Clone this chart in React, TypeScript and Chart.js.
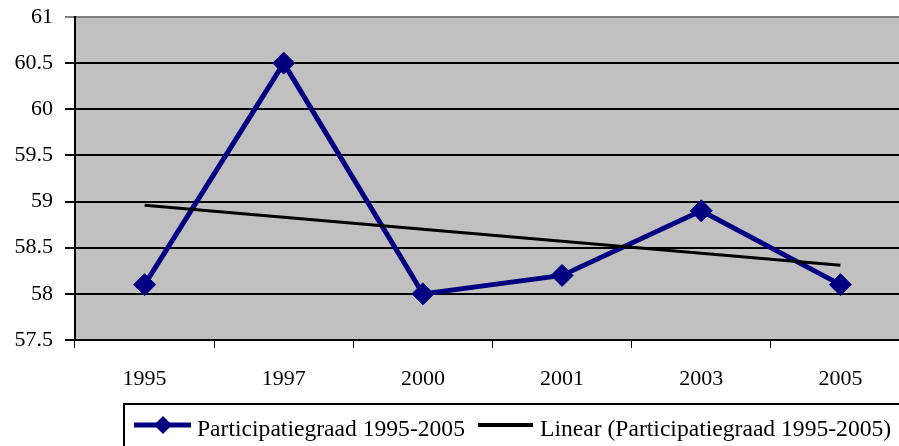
import React, { useEffect, useRef } from "react";
import { Chart, registerables } from "chart.js";

Chart.register(...registerables);

const categories = ["1995", "1997", "2000", "2001", "2003", "2005"];
const participatie = [58.1, 60.5, 58.0, 58.2, 58.9, 58.1];
const linearTrend = [58.96, 58.83, 58.7, 58.57, 58.44, 58.31];
const seriesLabel = "Participatiegraad 1995-2005";
const trendLabel = "Linear (Participatiegraad 1995-2005)";

const NAVY = "#000080";
const FONT = "Liberation Serif, 'Times New Roman', serif";

const bgPlugin = {
  id: "plotBg",
  beforeDraw(chart: any) {
    const { ctx, chartArea } = chart;
    ctx.save();
    ctx.fillStyle = "#C0C0C0";
    ctx.fillRect(chartArea.left, chartArea.top, chartArea.right - chartArea.left, chartArea.bottom - chartArea.top);
    ctx.restore();
  },
};

const legendPlugin = {
  id: "boxLegend",
  afterDraw(chart: any) {
    const ctx = chart.ctx;
    ctx.save();
    ctx.strokeStyle = "#000";
    ctx.lineWidth = 2;
    ctx.strokeRect(124, 404, 830, 80);
    const y = 425;
    ctx.strokeStyle = NAVY;
    ctx.lineWidth = 5;
    ctx.beginPath();
    ctx.moveTo(134, y);
    ctx.lineTo(191, y);
    ctx.stroke();
    ctx.fillStyle = NAVY;
    ctx.beginPath();
    const r = 9;
    ctx.moveTo(163 - r, y);
    ctx.lineTo(163, y - r);
    ctx.lineTo(163 + r, y);
    ctx.lineTo(163, y + r);
    ctx.closePath();
    ctx.fill();
    ctx.font = `23.6px ${FONT}`;
    ctx.fillStyle = "#000";
    ctx.textBaseline = "alphabetic";
    ctx.textAlign = "left";
    ctx.fillText(seriesLabel, 197, 436);
    ctx.strokeStyle = "#000";
    ctx.lineWidth = 4;
    ctx.beginPath();
    ctx.moveTo(478, y);
    ctx.lineTo(533, y);
    ctx.stroke();
    ctx.fillText(trendLabel, 540, 436);
    ctx.restore();
  },
};

export default function App() {
  const ref = useRef<HTMLCanvasElement>(null);
  useEffect(() => {
    if (!ref.current) return;
    const chart = new Chart(ref.current, {
      type: "line",
      data: {
        labels: categories,
        datasets: [
          {
            label: seriesLabel,
            data: participatie,
            borderColor: NAVY,
            backgroundColor: NAVY,
            borderWidth: 5,
            pointStyle: "rectRot",
            pointRadius: 11,
            pointBorderWidth: 1,
            pointBorderColor: NAVY,
            pointBackgroundColor: NAVY,
            tension: 0,
            order: 2,
          },
          {
            label: trendLabel,
            data: linearTrend,
            borderColor: "#000",
            backgroundColor: "#000",
            borderWidth: 3,
            pointRadius: 0,
            tension: 0,
            order: 1,
          },
        ],
      },
      options: {
        animation: false,
        responsive: false,
        events: [],
        layout: { padding: { left: 0, right: 1, top: 17, bottom: 46 } },
        plugins: { legend: { display: false }, tooltip: { enabled: false } },
        scales: {
          x: {
            type: "category",
            offset: true,
            afterFit(scale: any) {
              scale.height = 60;
              scale.paddingLeft = 0;
              scale.paddingRight = 0;
            },
            grid: {
              display: true,
              drawOnChartArea: false,
              drawTicks: true,
              tickLength: 8,
              offset: true,
              color: "#000",
              lineWidth: 1,
            },
            border: { display: true, color: "#000", width: 2 },
            ticks: {
              color: "#000",
              font: { family: FONT, size: 22 },
              padding: 18,
              maxRotation: 0,
              autoSkip: false,
            },
          },
          y: {
            min: 57.5,
            max: 61,
            afterFit(scale: any) {
              scale.width = 75;
              scale.paddingTop = 0;
              scale.paddingBottom = 0;
            },
            grid: {
              color: (c: any) => (c.tick && c.tick.value === 61 ? "#808080" : "#000"),
              lineWidth: 2,
              tickLength: 10,
              drawTicks: true,
            },
            border: { display: true, color: "#000", width: 2 },
            ticks: {
              stepSize: 0.5,
              color: "#000",
              font: { family: FONT, size: 22 },
              padding: 12,
              callback: (v: any) => String(Number(v)),
            },
          },
        },
      },
      plugins: [bgPlugin, legendPlugin],
    });
    return () => chart.destroy();
  }, []);
  return (
    <div style={{ position: "fixed", left: 0, top: 0, width: 899, height: 446, overflow: "hidden", background: "#fff" }}>
      <canvas ref={ref} width={922} height={446} style={{ display: "block", width: 922, height: 446 }} />
    </div>
  );
}
